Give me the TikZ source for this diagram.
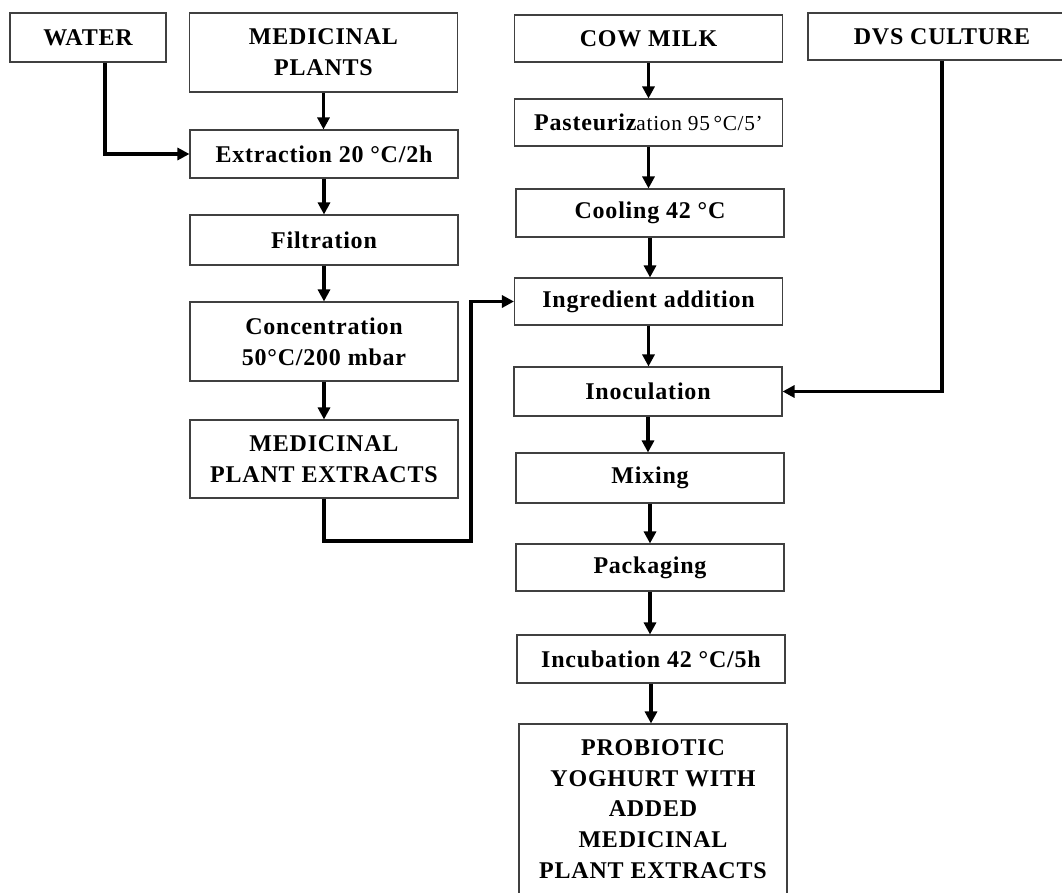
\documentclass[tikz,border=0pt]{standalone}
\usepackage{fontspec}
\setmainfont{Liberation Serif}[LetterSpace=3.3]
\usetikzlibrary{arrows.meta,positioning}

\begin{document}
\begin{tikzpicture}[x=0.75pt, y=-0.75pt,
   box/.style={draw=black!75, line width=0.8pt, align=center, inner sep=2pt,
     minimum width=201pt, minimum height=36pt,
     font=\fontsize{18}{23}\selectfont\bfseries},
   flow/.style={line width=2.4pt, -{Triangle[length=9pt,width=9pt]}}]
   \fill[white] (0,0) rectangle (1062,892);
   \path[use as bounding box, clip] (0,0) rectangle (1062,892);
   % left column
   \node[box, minimum width=117pt, minimum height=36.75pt] (water) at (88,37.5) {WATER};
   \node[box, minimum height=59.25pt] (plants) at (323.5,52.5) {MEDICINAL\\PLANTS};
   \node[box] (extract) at (324,154) {Extraction 20 °C/2h};
   \node[box, minimum height=37.5pt] (filtr) at (324,240) {Filtration};
   \node[box, minimum height=59.25pt] (conc) at (324,341.5) {Concentration\\50°C/200 mbar};
   \node[box, minimum height=58.5pt] (mpe) at (324,459) {MEDICINAL\\PLANT EXTRACTS};
   % right column
   \node[box, minimum height=35.25pt] (milk) at (648.5,38.5) {COW MILK};
   \node[box, minimum height=35.25pt] (dvs) at (942,36.5) {DVS CULTURE};
   \node[box, minimum height=35.25pt] (past) at (648.5,122.5)
     {Pasteuriz{\mdseries\fontsize{16}{23}\selectfont ation 95\,°C/5'}};
   \node[box] (cool) at (650,213) {Cooling 42 °C};
   \node[box, minimum height=35.25pt] (ingr) at (648.5,301.5) {Ingredient addition};
   \node[box, minimum height=36.75pt] (inoc) at (648,391.5) {Inoculation};
   \node[box, minimum height=37.5pt] (mix) at (650,478) {Mixing};
   \node[box, minimum height=35.25pt] (pack) at (650,567.5) {Packaging};
   \node[box] (incub) at (651,659) {Incubation 42 °C/5h};
   \node[box, minimum height=127.5pt] (final) at (653,809)
     {PROBIOTIC\\YOGHURT WITH\\ADDED\\MEDICINAL\\PLANT EXTRACTS};
   \coordinate (mpeturn) at (471,541);
   % connectors
   \draw[flow] ([xshift=12.75pt]water.south) |- (extract.west);
   \draw[flow] (plants.south) -- (plants.south |- extract.north);
   \draw[flow] (extract.south) -- (extract.south |- filtr.north);
   \draw[flow] (filtr.south) -- (filtr.south |- conc.north);
   \draw[flow] (conc.south) -- (conc.south |- mpe.north);
   \draw[flow] (mpe.south) |- (mpeturn) |- (ingr.west);
   \draw[flow] (milk.south) -- (milk.south |- past.north);
   \draw[flow] (past.south) -- (past.south |- cool.north);
   \draw[flow] (cool.south) -- (cool.south |- ingr.north);
   \draw[flow] (ingr.south) -- (ingr.south |- inoc.north);
   \draw[flow] (dvs.south) |- (inoc.east);
   \draw[flow] (inoc.south) -- (inoc.south |- mix.north);
   \draw[flow] (mix.south) -- (mix.south |- pack.north);
   \draw[flow] (pack.south) -- (pack.south |- incub.north);
   \draw[flow] (incub.south) -- (incub.south |- final.north);
\end{tikzpicture}
\end{document}
